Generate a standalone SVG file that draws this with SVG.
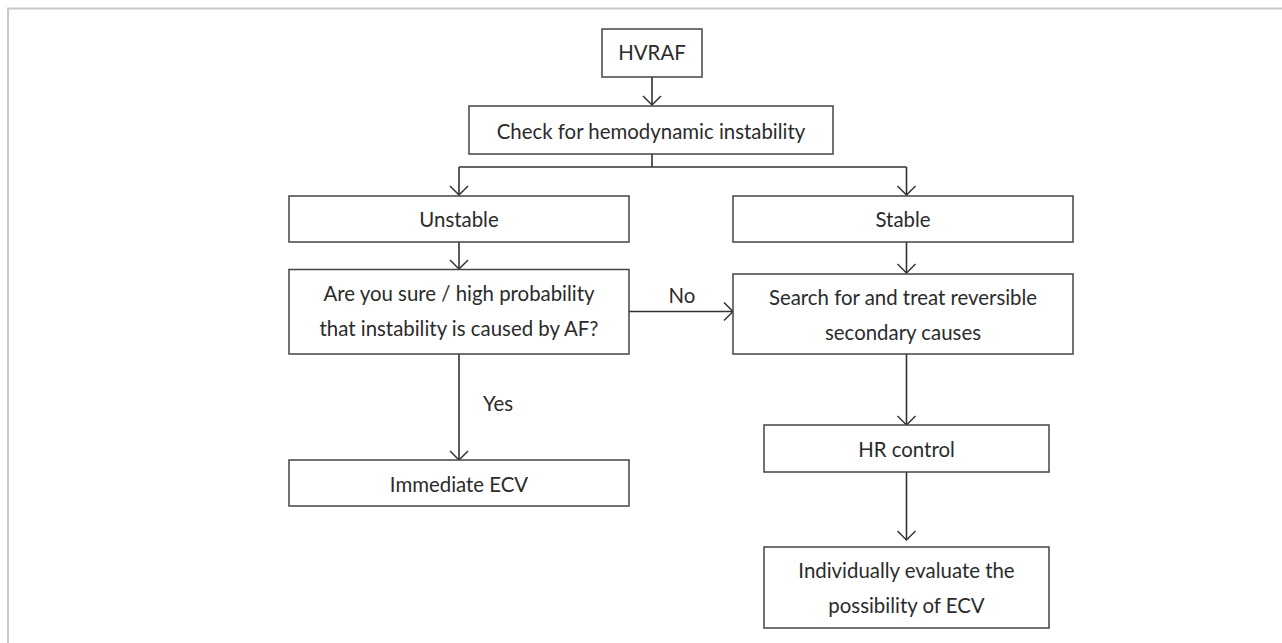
<svg xmlns="http://www.w3.org/2000/svg" width="1282" height="643" viewBox="0 0 1282 643">
<defs>
<marker id="arr" viewBox="0 0 20 20" refX="10" refY="10" markerWidth="20" markerHeight="20" markerUnits="userSpaceOnUse" orient="auto">
<path d="M1,1 L10,10 L1,19" fill="none" stroke="#333" stroke-width="1.5"/>
</marker>
<style>
.box{fill:#fff;stroke:#444;stroke-width:1.5}
.t{font-family:Lato,"Open Sans","Liberation Sans",sans-serif;font-size:20.4px;fill:#2b2b2b;text-anchor:middle}
.c{fill:none;stroke:#333;stroke-width:1.6}
.frame{stroke:#c8c8c8;stroke-width:2;fill:none}
</style>
</defs>
<rect width="1282" height="643" fill="#fff"/>
<path class="frame" d="M8,643 L8,8.5 L1282,8.5"/>
<g id="connectors">
<path class="c" d="M652,77 L652,105" marker-end="url(#arr)"/>
<path class="c" d="M652,154 L652,167 M459,167 L906.5,167"/>
<path class="c" d="M459,167 L459,195" marker-end="url(#arr)"/>
<path class="c" d="M906.5,167 L906.5,195" marker-end="url(#arr)"/>
<path class="c" d="M459,242 L459,269" marker-end="url(#arr)"/>
<path class="c" d="M906.5,242 L906.5,273" marker-end="url(#arr)"/>
<path class="c" d="M629,311.5 L733,311.5" marker-end="url(#arr)"/>
<path class="c" d="M459,354 L459,460" marker-end="url(#arr)"/>
<path class="c" d="M906.5,354 L906.5,425" marker-end="url(#arr)"/>
<path class="c" d="M906.5,472 L906.5,540" marker-end="url(#arr)"/>
<text class="t" x="682" y="303">No</text>
<text class="t" x="498" y="411">Yes</text>
</g>
<g id="hvraf"><rect class="box" x="602" y="29" width="100" height="48"/><text class="t" x="652" y="60">HVRAF</text></g>
<g id="check"><rect class="box" x="469" y="106" width="364" height="48"/><text class="t" x="651" y="139">Check for hemodynamic instability</text></g>
<g id="unstable"><rect class="box" x="289" y="196" width="340" height="46"/><text class="t" x="459" y="227">Unstable</text></g>
<g id="stable"><rect class="box" x="733" y="196" width="340" height="46"/><text class="t" x="903" y="227">Stable</text></g>
<g id="question"><rect class="box" x="289" y="269.5" width="340" height="84.5"/><text class="t" x="459" y="301">Are you sure / high probability</text><text class="t" x="459" y="336">that instability is caused by AF?</text></g>
<g id="search"><rect class="box" x="733" y="274" width="340" height="80"/><text class="t" x="903" y="305">Search for and treat reversible</text><text class="t" x="903" y="340">secondary causes</text></g>
<g id="ecv"><rect class="box" x="289" y="460" width="340" height="46"/><text class="t" x="459" y="492">Immediate ECV</text></g>
<g id="hr"><rect class="box" x="764" y="425" width="285" height="47"/><text class="t" x="906.5" y="457">HR control</text></g>
<g id="indiv"><rect class="box" x="764" y="547" width="285" height="81"/><text class="t" x="906.5" y="578">Individually evaluate the</text><text class="t" x="906.5" y="613">possibility of ECV</text></g>
</svg>
